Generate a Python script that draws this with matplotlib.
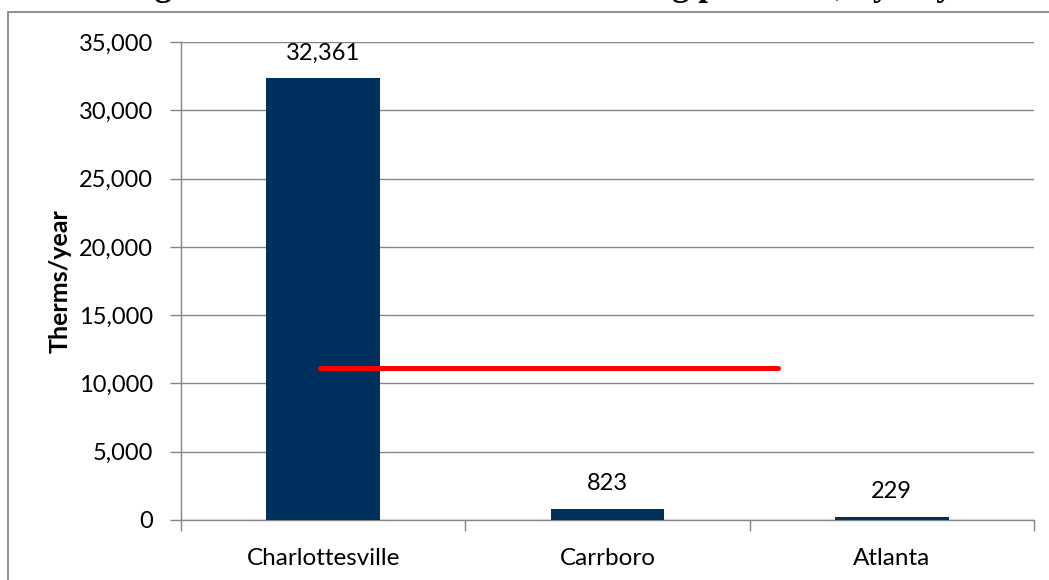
import matplotlib
matplotlib.use("Agg")
import matplotlib.pyplot as plt
from matplotlib.patches import Rectangle
from matplotlib.ticker import FuncFormatter, MultipleLocator

# Annual natural gas use per city (therms/year)
cities = ["Charlottesville", "Carrboro", "Atlanta"]
therms = [32361, 823, 229]
average = sum(therms) / len(therms)
avg_span = [-0.01, 1.6]  # category positions covered by the average line

y_max = 35000
y_step = 5000

title = "Natural gas consumed at each of the heating pool sites, by city"

W, H, DPI = 1049, 580, 100
fig = plt.figure(figsize=(W / DPI, H / DPI), dpi=DPI)
fig.patch.set_facecolor("white")

FONT = "Lato"
GRID = "#868686"
BAR = "#00305e"

# outer chart frame
fig.patches.append(Rectangle((8 / W, -0.1), 1.2, (H - 12) / H + 0.1,
                             transform=fig.transFigure, fill=False,
                             edgecolor=GRID, linewidth=1.3, zorder=0))

# caption above the chart
fig.text(29 / W, 1 + 4.6 / H, title, ha="left", va="baseline",
         family="Liberation Serif", weight="bold", fontsize=25.2)

left, right, top, bottom = 181, 1034, 42, 520
ax = fig.add_axes([left / W, 1 - bottom / H, (right - left) / W, (bottom - top) / H])

x = list(range(len(cities)))
ax.bar(x, therms, width=0.40, color=BAR, zorder=3)
ax.plot(avg_span, [average, average], color="#ff0000", linewidth=3.6,
        solid_capstyle="round", zorder=4)

for xi, v in zip(x, therms):
    ax.annotate(f"{v:,}", (xi, v), xytext=(0, 25), textcoords="offset pixels",
                ha="center", va="center", family=FONT, fontsize=17)

ax.set_xlim(-0.5, len(cities) - 0.5)
ax.set_ylim(0, y_max)
ax.yaxis.set_major_locator(MultipleLocator(y_step))
ax.yaxis.set_major_formatter(FuncFormatter(lambda v, p: f"{int(v):,}"))
ax.grid(axis="y", color=GRID, linewidth=1.0, zorder=0)
ax.set_axisbelow(True)

ax.set_xticks(x)
ax.set_xticklabels(cities, family=FONT, fontsize=17.5)
ax.tick_params(axis="x", length=0, pad=20)
# category separators on the x axis
ax.set_xticks([i - 0.5 for i in range(len(cities) + 1)], minor=True)
ax.tick_params(axis="x", which="minor", length=8, width=1.0, color=GRID, direction="out")

for lab in ax.get_yticklabels():
    lab.set_family(FONT)
    lab.set_fontsize(17)
ax.tick_params(axis="y", length=8, width=1.0, color=GRID, pad=12)

for side in ("top", "right"):
    ax.spines[side].set_visible(False)
for side in ("left", "bottom"):
    ax.spines[side].set_color(GRID)
    ax.spines[side].set_linewidth(1.0)

ax.set_ylabel("Therms/year", family=FONT, weight="bold", fontsize=18)
ax.yaxis.set_label_coords(-(left - 72) / (right - left), 0.5)

fig.savefig("out.png", dpi=DPI, facecolor="white")
